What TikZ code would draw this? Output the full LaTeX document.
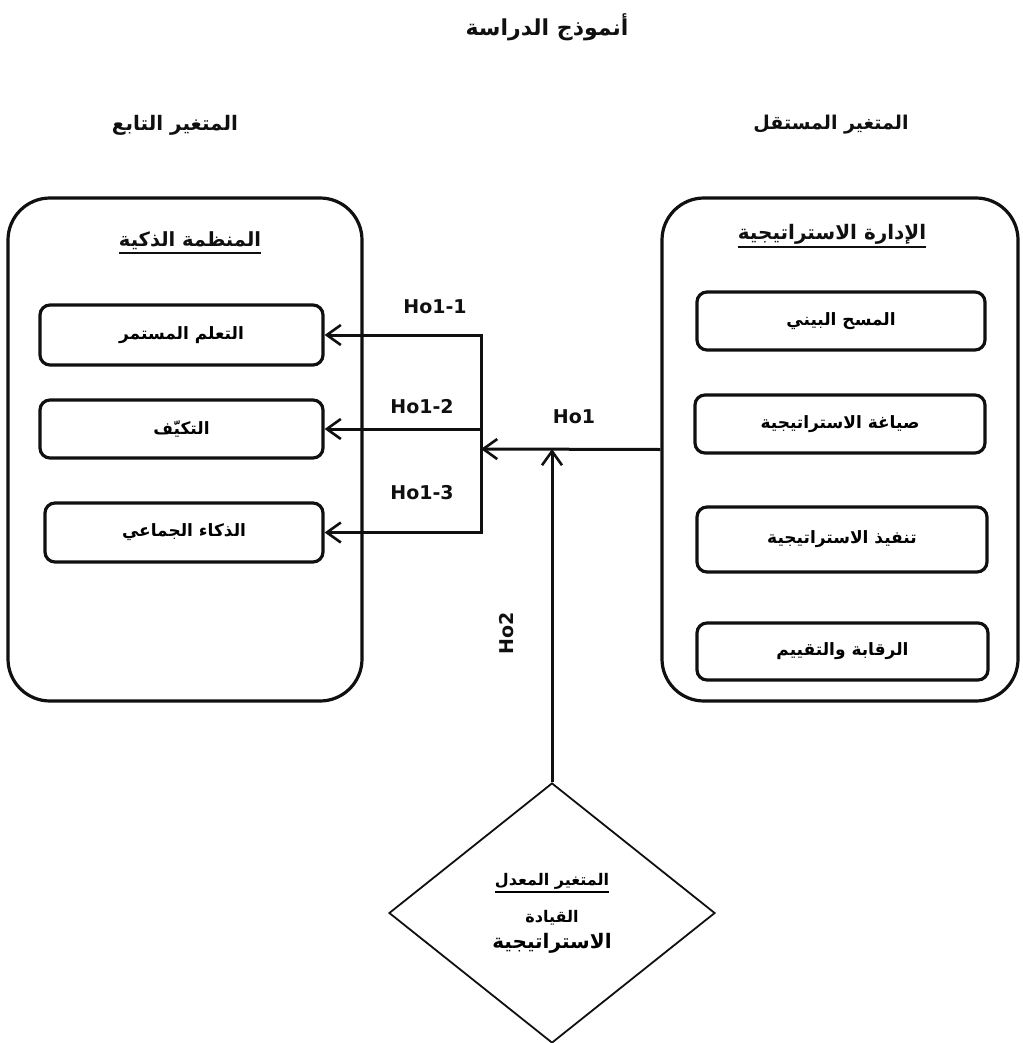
\documentclass[tikz,border=0pt]{standalone}
\usepackage{fontspec}
\usepackage{tikz}
\usetikzlibrary{arrows.meta,positioning,shapes.geometric}
\setmainfont{DejaVu Sans}
\newfontfamily\arabicfont[Script=Arabic]{DejaVu Sans}
\TeXXeTstate=1
\definecolor{ink}{HTML}{101010}
% Arabic text, bold, right to left
\newcommand{\artext}[1]{{\arabicfont\bfseries\beginR#1\endR}}
% thick underline under a heading
\newcommand{\ulhead}[1]{\setbox0=\hbox{#1}\rlap{\raisebox{-\dp0}{\rule[-4pt]{\wd0}{1.8pt}}}\box0}
\tikzset{
  groupbox/.style={
    rectangle, rounded corners=42pt, draw=ink, line width=3.2pt,
    minimum width=#1, minimum height=503pt, inner sep=0pt
  },
  groupbox/.default=354pt,
  itembox/.style={
    rectangle, rounded corners=10pt, draw=ink, line width=3.2pt,
    minimum width=#1, minimum height=58pt,
    font=\fontsize{17}{20}\selectfont, inner sep=0pt
  },
  itembox/.default=285pt,
  hyparrow/.style={
    -{Straight Barb[length=14pt,width=20pt,line width=2.6pt]},
    line width=3pt, draw=ink
  },
  hyplabel/.style={
    font=\fontsize{19}{21}\selectfont\bfseries, text=ink
  },
  headnode/.style={
    font=\fontsize{#1}{24}\selectfont, text=ink
  },
  headnode/.default=20,
  moderbox/.style={
    diamond, draw=ink, line width=1.8pt,
    minimum width=326pt, minimum height=260pt,
    align=center, inner sep=0pt
  },
}
\begin{document}
\begin{tikzpicture}[x=1pt,y=-1pt]
  \useasboundingbox (0,0) rectangle (1022,1043);
  % headings
  \node[headnode=22] (title) at (547,27) {\artext{أنموذج الدراسة}};
  \node[headnode=20] (hdep) at (175,125) {\artext{المتغير التابع}};
  \node[headnode=19] (hindep) at (831,125) {\artext{المتغير المستقل}};

  % dependent variable
  \node[groupbox] (dep) at (185,449.5) {};
  \node[headnode=19.5] (deptitle) at (190,243) {\ulhead{\artext{المنظمة الذكية}}};
  \node[itembox=283pt, minimum height=60pt] (learn) at (181.5,335) {\artext{التعلم المستمر}};
  \node[itembox=283pt] (adapt) at (181.5,429) {\artext{التكيّف}};
  \node[itembox=278pt, minimum height=59pt] (collect) at (184,532.5) {\artext{الذكاء الجماعي}};

  % independent variable
  \node[groupbox=356pt] (indep) at (840,449.5) {};
  \node[headnode=20] (indeptitle) at (832,236) {\ulhead{\artext{الإدارة الاستراتيجية}}};
  \node[itembox=288pt] (scan) at (841,321) {\artext{المسح البيني}};
  \node[itembox=290pt] (form) at (840,424) {\artext{صياغة الاستراتيجية}};
  \node[itembox=290pt, minimum height=65pt] (impl) at (842,539.5) {\artext{تنفيذ الاستراتيجية}};
  \node[itembox=291pt, minimum height=57pt] (eval) at (842.5,651.5) {\artext{الرقابة والتقييم}};

  % moderator
  \node[moderbox] (moder) at (552,913) {%
    {\fontsize{16}{18}\selectfont\ulhead{\artext{المتغير المعدل}}}\\[16pt]
    {\fontsize{16}{18}\selectfont\artext{القيادة}}\\[7pt]
    {\fontsize{20}{22}\selectfont\artext{الاستراتيجية}}};

  % hypotheses
  \coordinate (junc) at (481,449);
  \draw[line width=3pt, draw=ink] (junc |- learn) -- (junc |- collect);
  \draw[hyparrow] (indep.west) -- (junc);
  \draw[hyparrow] (junc) |- (learn.east);
  \draw[hyparrow] (junc) |- (adapt.east);
  \draw[hyparrow] (junc) |- (collect.east);
  \draw[hyparrow] (moder.north) -- (moder.north |- junc);

  \node[hyplabel] (hoa) at (435,307) {Ho1-1};
  \node[hyplabel] (hob) at (422,407) {Ho1-2};
  \node[hyplabel] (hoc) at (422,493) {Ho1-3};
  \node[hyplabel] (hoone) at (574,417) {Ho1};
  \node[hyplabel, rotate=90] (hotwo) at (507,633) {Ho2};
\end{tikzpicture}
\end{document}
